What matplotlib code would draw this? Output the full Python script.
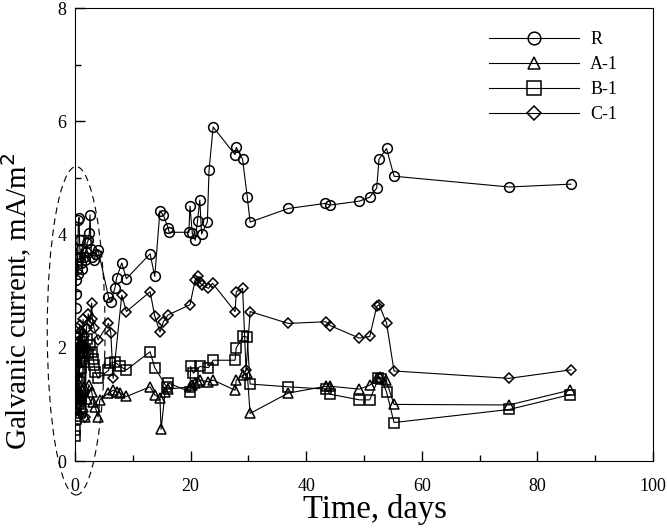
import numpy as np
import matplotlib
matplotlib.use('Agg')
import matplotlib.pyplot as plt
from matplotlib.patches import Ellipse
from matplotlib.ticker import MultipleLocator

# Galvanic current vs time
r_days = [0.0, 0.05, 0.1, 0.15, 0.2, 0.25, 0.3, 0.4, 0.45, 0.5, 0.6, 0.7, 0.8, 0.9,
          1.0, 1.1, 1.3, 1.5, 1.7, 1.9, 2.1, 2.3, 2.5, 2.6, 2.8, 3.0, 3.3, 3.6, 4.0,
          5.8, 6.2, 6.9, 7.2, 8.1, 8.9, 13.0, 13.8, 14.7, 15.3, 16.1, 16.3, 19.7,
          19.9, 20.3, 20.8, 21.2, 21.6, 21.9, 22.9, 23.2, 23.9, 27.7, 27.9, 29.0,
          29.8, 30.3, 36.9, 43.3, 44.1, 49.2, 51.0, 52.2, 52.6, 53.9, 55.2, 75.1, 85.8]
r_vals = [1.75, 2.0, 2.35, 2.7, 2.95, 3.2, 3.4, 3.6, 3.3, 3.75, 4.25, 4.3, 3.9, 3.6,
          3.5, 3.75, 3.4, 3.6, 3.55, 3.7, 3.85, 3.9, 4.03, 4.35, 3.75, 3.6, 3.55, 3.65, 3.73,
          2.9, 2.81, 3.05, 3.23, 3.5, 3.22, 3.66, 3.26, 4.42, 4.34, 4.12, 4.04, 4.04,
          4.5, 4.02, 3.9, 4.24, 4.61, 4.01, 4.22, 5.14, 5.9, 5.41, 5.54, 5.33,
          4.67, 4.22, 4.46, 4.55, 4.52, 4.59, 4.66, 4.82, 5.33, 5.52, 5.03, 4.84, 4.89]

a_days = [0.0, 0.05, 0.1, 0.15, 0.2, 0.3, 0.4, 0.5, 0.6, 0.7, 0.8, 0.9, 1.0, 1.2,
          1.4, 1.6, 1.8, 2.0, 2.4, 2.9, 3.2, 3.5, 4.0, 4.3, 5.8, 6.6, 7.2, 7.8, 8.9,
          13.0, 13.8, 14.7, 14.9, 15.6, 16.1, 19.9, 20.2, 20.8, 21.3, 21.6, 23.1,
          23.9, 27.7, 27.9, 29.1, 29.8, 30.3, 36.9, 43.4, 44.2, 49.2, 51.0, 52.2,
          52.8, 53.8, 55.2, 75.1, 85.6]
a_vals = [0.9, 1.1, 0.8, 1.3, 1.0, 1.2, 0.9, 1.15, 1.3, 1.0, 1.2, 0.85, 1.1, 1.25,
          0.95, 1.3, 0.78, 1.1, 1.35, 1.22, 1.05, 0.96, 0.78, 1.08, 1.2, 1.25, 1.22, 1.2, 1.14,
          1.31, 1.17, 1.11, 0.56, 1.22, 1.27, 1.31, 1.34, 1.37, 1.4, 1.43, 1.4,
          1.43, 1.25, 1.43, 1.52, 1.55, 0.84, 1.2, 1.32, 1.32, 1.27, 1.34, 1.46,
          1.48, 1.43, 1.0, 0.99, 1.25]

b_days = [0.0, 0.05, 0.1, 0.15, 0.2, 0.3, 0.4, 0.5, 0.6, 0.7, 0.8, 0.9, 1.0, 1.2,
          1.4, 1.6, 1.8, 2.0, 2.3, 2.6, 2.9, 3.2, 3.3, 3.5, 4.0, 5.8, 6.1, 6.9, 7.8,
          8.9, 13.0, 13.8, 15.9, 16.1, 19.9, 20.0, 20.5, 21.6, 23.1, 23.9, 27.7,
          27.9, 29.1, 29.8, 30.3, 36.9, 43.4, 44.2, 49.2, 51.0, 52.5, 53.0, 53.9,
          55.2, 75.1, 85.6]
b_vals = [0.45, 0.55, 0.75, 0.95, 1.2, 1.45, 1.1, 1.6, 1.9, 1.4, 1.75, 2.0, 1.65, 1.85,
          2.1, 1.75, 1.95, 2.15, 1.9, 2.05, 1.93, 1.8, 1.7, 1.58, 1.46, 1.6, 1.73, 1.75, 1.67,
          1.61, 1.93, 1.65, 1.3, 1.38, 1.22, 1.67, 1.55, 1.67, 1.65, 1.78, 1.78,
          2.0, 2.2, 2.19, 1.36, 1.31, 1.27, 1.18, 1.08, 1.08, 1.46, 1.45, 1.22,
          0.68, 0.91, 1.17]

c_days = [0.0, 0.05, 0.1, 0.15, 0.2, 0.3, 0.4, 0.5, 0.6, 0.7, 0.8, 0.9, 1.0, 1.2,
          1.4, 1.6, 1.8, 2.0, 2.3, 2.6, 2.9, 3.0, 3.3, 4.0, 5.8, 6.2, 6.6, 8.1, 8.9,
          13.0, 13.8, 14.7, 15.3, 16.1, 19.9, 20.8, 21.3, 21.6, 21.9, 23.1, 23.8,
          27.7, 27.9, 29.0, 29.6, 30.3, 36.9, 43.4, 44.2, 49.2, 51.0, 52.2, 52.6,
          53.9, 55.2, 75.1, 85.8]
c_vals = [0.9, 1.2, 1.5, 1.75, 1.4, 1.9, 2.1, 1.7, 2.2, 2.0, 2.4, 1.85, 2.3, 2.05,
          2.5, 2.2, 0.78, 2.35, 2.6, 2.45, 2.79, 2.5, 2.35, 2.14, 2.43, 2.26, 1.46, 2.93, 2.64,
          2.99, 2.56, 2.28, 2.46, 2.58, 2.76, 3.2, 3.26, 3.17, 3.11, 3.05, 3.14,
          2.64, 2.99, 3.05, 1.61, 2.64, 2.43, 2.46, 2.39, 2.17, 2.2, 2.73, 2.76,
          2.44, 1.59, 1.46, 1.61]

series = [
    ('R', r_days, r_vals, 'o'),
    ('A-1', a_days, a_vals, '^'),
    ('B-1', b_days, b_vals, 's'),
    ('C-1', c_days, c_vals, 'D'),
]
marker_size = {'o': 7, '^': 7, 's': 7.5, 'D': 5.5}

plt.rcParams['font.family'] = ['Liberation Serif', 'DejaVu Serif']

fig = plt.figure(figsize=(6.67, 5.31), dpi=100)
ax = fig.add_axes([0.1124, 0.1318, 0.8666, 0.853])

for name, d, v, m in series:
    ax.plot(d, v, color='black', lw=0.8, marker=m, ms=marker_size[m],
            mfc='none', mec='black', mew=1.1, label=name)

ell = Ellipse((0.2, 2.3), width=10.0, height=5.8, fill=False, ls=(0, (6, 4)),
              lw=0.8, color='black', clip_on=False)
ax.add_patch(ell)

ax.set_xlim(0, 100)
ax.set_ylim(0, 8)
ax.xaxis.set_major_locator(MultipleLocator(20))
ax.xaxis.set_minor_locator(MultipleLocator(10))
ax.yaxis.set_major_locator(MultipleLocator(2))
ax.yaxis.set_minor_locator(MultipleLocator(1))
ax.tick_params(which='both', direction='in', labelsize=13, width=1)
ax.tick_params(which='major', length=7)
ax.tick_params(which='minor', length=4)
ax.tick_params(axis='x', pad=12)
ax.tick_params(axis='y', pad=6)

ax.set_xlabel('Time, days', fontsize=23.5)
ax.xaxis.set_label_coords(0.519, -0.073)
ax.set_ylabel('Galvanic current, mA/m$^2$', fontsize=21)
ax.yaxis.set_label_coords(-0.071, 0.353)

leg = ax.legend(loc='upper right', bbox_to_anchor=(0.968, 0.985), frameon=False,
                fontsize=13, handlelength=5.0, markerscale=1.3, labelspacing=0.45,
                handletextpad=0.6)

fig.savefig('out.png', dpi=100)
